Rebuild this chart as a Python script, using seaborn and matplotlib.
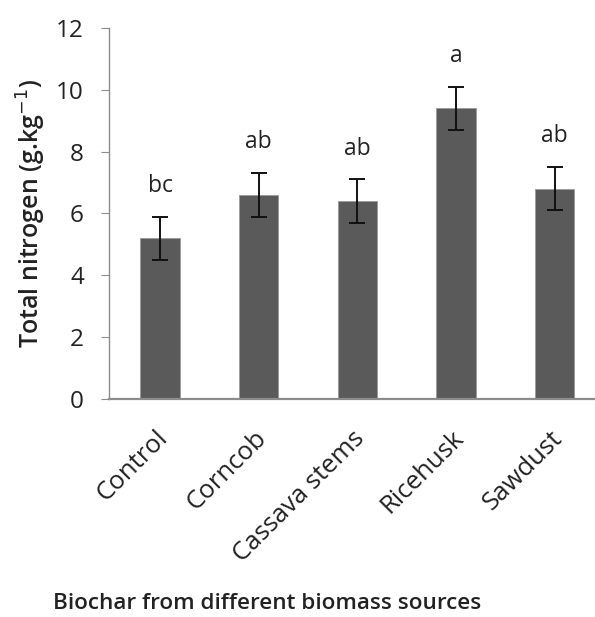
import numpy as np
import pandas as pd
import seaborn as sns
import matplotlib.pyplot as plt
from matplotlib.transforms import ScaledTranslation

categories = ['Control', 'Corncob', 'Cassava stems', 'Ricehusk', 'Sawdust']
nitrogen = [5.2, 6.6, 6.4, 9.4, 6.8]
errors = [0.7, 0.7, 0.7, 0.7, 0.7]
letters = ['bc', 'ab', 'ab', 'a', 'ab']

df = pd.DataFrame({'source': categories, 'nitrogen': nitrogen})

sns.set_theme(style='white')
plt.rcParams['font.family'] = ['Open Sans', 'DejaVu Sans']

fig = plt.figure(figsize=(5.95, 6.17), dpi=100)
ax = fig.add_axes([0.183, 0.353, 0.817, 0.602])

sns.barplot(data=df, x='source', y='nitrogen', color='#5a5a5a', width=0.4,
            saturation=1, edgecolor='#9a9a9a', linewidth=0.6, ax=ax)

pos = np.arange(len(categories))
ax.errorbar(pos, nitrogen, yerr=errors, fmt='none', ecolor='#111111',
            elinewidth=1.4, capsize=6, capthick=1.4)
for x, v, e, t in zip(pos, nitrogen, errors, letters):
    ax.text(x, v + e + 0.8, t, ha='center', va='baseline', fontsize=16.5,
            color='#222222')

ax.set_ylim(0, 12)
ax.set_yticks(range(0, 13, 2))
ax.set_xlim(-0.52, 4.41)

for s in ['top', 'right']:
    ax.spines[s].set_visible(False)
for s in ['left', 'bottom']:
    ax.spines[s].set_color('#8c8c8c')
    ax.spines[s].set_linewidth(1.0)
ax.spines['bottom'].set_linewidth(1.6)

ax.tick_params(axis='y', left=True, length=6, width=0.8, color='#8c8c8c',
               pad=12, labelsize=17.5, labelcolor='#222222')
ax.tick_params(axis='x', bottom=False, pad=13, labelsize=18.5, labelcolor='#222222')
shift = ScaledTranslation(-5 / 100, 0, fig.dpi_scale_trans)
for lab in ax.get_xticklabels():
    lab.set_rotation(45)
    lab.set_ha('right')
    lab.set_rotation_mode('anchor')
    lab.set_transform(lab.get_transform() + shift)

ax.set_ylabel('Total nitrogen (g.kg$^{-1}$)', fontsize=18, fontweight='semibold',
              color='#222222')
ax.yaxis.set_label_coords(-0.126, 0.5)
ax.set_xlabel('Biochar from different biomass sources', fontsize=16.2,
              fontweight='semibold', color='#222222')
ax.xaxis.set_label_coords(0.325, -0.522)

fig.savefig('out.png', dpi=100)
